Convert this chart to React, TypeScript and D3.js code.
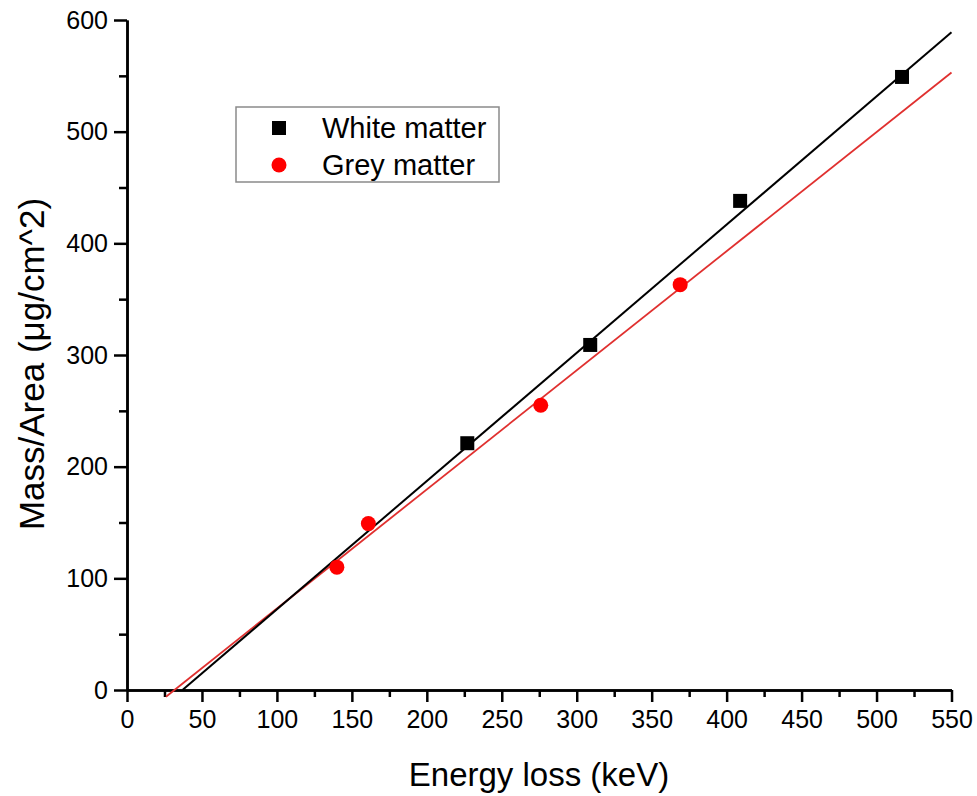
import React, { useEffect, useRef } from 'react'
import { select, scaleLinear, line, axisBottom, axisLeft, range, symbol, symbolSquare } from 'd3'

// measured data points
const whiteX = [227, 309, 409, 517]
const whiteY = [221, 309, 438, 549]
const greyX = [140, 161, 276, 369]
const greyY = [110, 149, 255, 363]

// linear fit end points
const whiteFitX = [37, 550]
const whiteFitY = [0, 589]
const greyFitX = [26, 550]
const greyFitY = [-6, 553]

const xTicks = range(0, 551, 50)
const xMinor = range(25, 551, 50)
const yTicks = range(0, 601, 100)
const yMinor = range(50, 601, 100)

const legendLabels = ['White matter', 'Grey matter']

const W = 977
const H = 796
const FONT = 'Liberation Sans, Arial, sans-serif'

export default function App() {
  const ref = useRef<SVGSVGElement>(null)

  useEffect(() => {
    document.body.style.margin = '0'
    const svg = select(ref.current)
    svg.selectAll('*').remove()

    const x = scaleLinear().domain([0, 550]).range([127, 951.5])
    const y = scaleLinear().domain([0, 600]).range([690, 20])

    svg.append('g')
      .attr('transform', 'translate(0,690)')
      .call(axisBottom(x).tickValues(xTicks).tickSize(12).tickPadding(8).tickSizeOuter(0))
    svg.append('g')
      .attr('transform', 'translate(0,690)')
      .call(axisBottom(x).tickValues(xMinor).tickSize(7).tickFormat(() => '').tickSizeOuter(0))

    svg.append('g')
      .attr('transform', 'translate(127,0)')
      .call(axisLeft(y).tickValues(yTicks).tickSize(13).tickPadding(6).tickSizeOuter(0))
    svg.append('g')
      .attr('transform', 'translate(127,0)')
      .call(axisLeft(y).tickValues(yMinor).tickSize(8).tickFormat(() => '').tickSizeOuter(0))

    svg.selectAll('.domain, .tick line')
      .attr('stroke', '#000')
      .attr('stroke-width', 2.5)
    svg.selectAll('.tick text')
      .attr('fill', '#000')
      .style('font-family', FONT)
      .style('font-size', '25px')

    // axis titles
    svg.append('text')
      .attr('x', 539).attr('y', 786)
      .attr('text-anchor', 'middle')
      .style('font-family', FONT).style('font-size', '33px')
      .text('Energy loss (keV)')
    svg.append('text')
      .attr('transform', 'translate(44,364) rotate(-90)')
      .attr('text-anchor', 'middle')
      .style('font-family', FONT).style('font-size', '35px')
      .text('Mass/Area (μg/cm^2)')

    const whiteFit = whiteFitX.map((d, i) => [d, whiteFitY[i]] as [number, number])
    const greyFit = greyFitX.map((d, i) => [d, greyFitY[i]] as [number, number])
    const lineGen = line<[number, number]>().x(d => x(d[0])).y(d => y(d[1]))

    svg.append('path')
      .datum(greyFit)
      .attr('d', lineGen)
      .attr('fill', 'none')
      .attr('stroke', '#e0302f')
      .attr('stroke-width', 1.8)
    svg.append('path')
      .datum(whiteFit)
      .attr('d', lineGen)
      .attr('fill', 'none')
      .attr('stroke', '#000')
      .attr('stroke-width', 2)

    const sq = symbol().type(symbolSquare).size(196)

    svg.selectAll('.white')
      .data(whiteX)
      .enter().append('path')
      .attr('d', sq)
      .attr('transform', (d, i) => `translate(${x(d)},${y(whiteY[i])})`)
      .attr('fill', '#000')

    svg.selectAll('.grey')
      .data(greyX)
      .enter().append('circle')
      .attr('cx', d => x(d))
      .attr('cy', (d, i) => y(greyY[i]))
      .attr('r', 7.5)
      .attr('fill', '#ff0000')

    // legend
    const lg = svg.append('g')
    lg.append('rect')
      .attr('x', 236).attr('y', 107)
      .attr('width', 263).attr('height', 75)
      .attr('fill', '#fff')
      .attr('stroke', '#8a8a8a')
      .attr('stroke-width', 1.5)
    lg.append('path')
      .attr('d', sq)
      .attr('transform', 'translate(279,128)')
      .attr('fill', '#000')
    lg.append('circle')
      .attr('cx', 279).attr('cy', 165)
      .attr('r', 7.5)
      .attr('fill', '#ff0000')
    lg.selectAll('.lbl')
      .data(legendLabels)
      .enter().append('text')
      .attr('x', 322)
      .attr('y', (d, i) => 138 + i * 37)
      .style('font-family', FONT)
      .style('font-size', '29px')
      .text(d => d)
  }, [])

  return (
    <svg ref={ref} width={W} height={H}
      style={{ position: 'absolute', left: 0, top: 0, background: '#fff' }} />
  )
}
